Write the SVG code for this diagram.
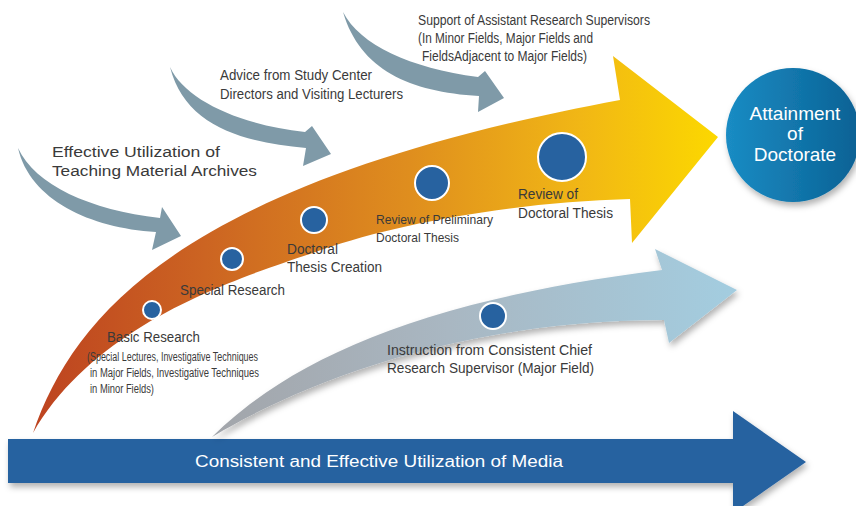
<svg xmlns="http://www.w3.org/2000/svg" width="856" height="506" viewBox="0 0 856 506">
<defs>
<style>
.lbl{font-family:"Liberation Sans","Noto Sans",sans-serif;fill:#3a3a3a;}
.c14{font-size:14px;}
.c13{font-size:13px;}
.c12{font-size:12px;}
.big{font-size:15.5px;}
.wt{font-family:"Liberation Sans","Noto Sans",sans-serif;fill:#ffffff;}
.dot{fill:#2762a0;stroke:#ffffff;stroke-width:2;}
.side{fill:#7f9aa8;}
</style>
<linearGradient id="gOrange" gradientUnits="userSpaceOnUse" x1="33" y1="0" x2="718" y2="0">
<stop offset="0" stop-color="#bd4320"/>
<stop offset="0.25" stop-color="#cc6422"/>
<stop offset="0.55" stop-color="#df8e1e"/>
<stop offset="0.8" stop-color="#f1b715"/>
<stop offset="1" stop-color="#fcd800"/>
</linearGradient>
<linearGradient id="gLight" gradientUnits="userSpaceOnUse" x1="212" y1="0" x2="737" y2="0">
<stop offset="0" stop-color="#a2a5aa"/>
<stop offset="0.45" stop-color="#a9b7c2"/>
<stop offset="1" stop-color="#a3cde0"/>
</linearGradient>
<linearGradient id="gGoal" x1="0" y1="0" x2="1" y2="0">
<stop offset="0" stop-color="#1a8cc4"/>
<stop offset="1" stop-color="#0a6194"/>
</linearGradient>
<filter id="shadow" x="-20%" y="-20%" width="140%" height="160%">
<feDropShadow dx="2" dy="4" stdDeviation="3" flood-color="#000" flood-opacity="0.3"/>
</filter>
</defs>
<rect width="856" height="506" fill="#ffffff"/>

<g id="connectors">
<path id="arrow-media" d="M8,439 H733 V411 L806,462 L733,513 V483 H8 Z" fill="#2762a0" filter="url(#shadow)"/>
<path id="arrow-instruction" d="M212,437 C290,360 420,300 662,270 L655,249 L737,290 L669,343 L664,320 C450,320 290,390 212,437 Z" fill="url(#gLight)" filter="url(#shadow)"/>
<path id="arrow-main" d="M33,433 C75,310 190,180 620,100 L613,56 L718,137 L632,243 L630,199 C520,202 400,222 321,250 C260,272 100,315 33,433 Z" fill="url(#gOrange)"/>
<path id="arrow-archives" class="side" d="M18,148 C35,185 90,210 160,218 L162,207 L181,236 L152,250 L156,232 C90,228 30,200 18,148 Z"/>
<path id="arrow-advice" class="side" d="M170,67 C185,100 240,125 305,132 L312,126 L331,154 L303,166 L306,148 C240,142 185,125 170,67 Z"/>
<path id="arrow-support" class="side" d="M343,12 C360,45 410,68 478,77 L485,71 L504,98 L478,112 L479,96 C410,92 360,70 343,12 Z"/>
</g>

<g id="media-label">
<text class="wt" x="195" y="467" font-size="16" textLength="368" lengthAdjust="spacingAndGlyphs">Consistent and Effective Utilization of Media</text>
</g>

<g id="goal">
<circle cx="793" cy="135" r="67" fill="url(#gGoal)" filter="url(#shadow)"/>
<text class="wt" x="795" y="120" font-size="19" text-anchor="middle">Attainment</text>
<text class="wt" x="795" y="140" font-size="19" text-anchor="middle">of</text>
<text class="wt" x="795" y="161" font-size="19" text-anchor="middle">Doctorate</text>
</g>

<g id="archives">
<text class="lbl big" x="52" y="157" textLength="168" lengthAdjust="spacingAndGlyphs">Effective Utilization of</text>
<text class="lbl big" x="52" y="176" textLength="205" lengthAdjust="spacingAndGlyphs">Teaching Material Archives</text>
</g>

<g id="advice">
<text class="lbl c14" x="220" y="80" textLength="152" lengthAdjust="spacingAndGlyphs">Advice from Study Center</text>
<text class="lbl c14" x="220" y="99" textLength="183" lengthAdjust="spacingAndGlyphs">Directors and Visiting Lecturers</text>
</g>

<g id="support">
<text class="lbl c14" x="418" y="25" textLength="232" lengthAdjust="spacingAndGlyphs">Support of Assistant Research Supervisors</text>
<text class="lbl c14" x="418" y="43" textLength="175" lengthAdjust="spacingAndGlyphs">(In Minor Fields, Major Fields and</text>
<text class="lbl c14" x="422" y="61" textLength="165" lengthAdjust="spacingAndGlyphs">FieldsAdjacent to Major Fields)</text>
</g>

<g id="basic-research">
<circle class="dot" cx="152" cy="310" r="9"/>
<text class="lbl c14" x="107" y="342" textLength="93" lengthAdjust="spacingAndGlyphs">Basic Research</text>
<text class="lbl c12" x="87" y="361" textLength="171" lengthAdjust="spacingAndGlyphs">(Special Lectures, Investigative Techniques</text>
<text class="lbl c12" x="90" y="377" textLength="169" lengthAdjust="spacingAndGlyphs">in Major Fields, Investigative Techniques</text>
<text class="lbl c12" x="90" y="393" textLength="64" lengthAdjust="spacingAndGlyphs">in Minor Fields)</text>
</g>

<g id="special-research">
<circle class="dot" cx="232" cy="259" r="11"/>
<text class="lbl c14" x="180" y="295" textLength="105" lengthAdjust="spacingAndGlyphs">Special Research</text>
</g>

<g id="thesis-creation">
<circle class="dot" cx="314" cy="220" r="13"/>
<text class="lbl c14" x="287" y="254" textLength="51" lengthAdjust="spacingAndGlyphs">Doctoral</text>
<text class="lbl c14" x="287" y="272" textLength="95" lengthAdjust="spacingAndGlyphs">Thesis Creation</text>
</g>

<g id="preliminary-review">
<circle class="dot" cx="432" cy="183" r="17"/>
<text class="lbl c13" x="376" y="224" textLength="117" lengthAdjust="spacingAndGlyphs">Review of Preliminary</text>
<text class="lbl c13" x="376" y="242" textLength="83" lengthAdjust="spacingAndGlyphs">Doctoral Thesis</text>
</g>

<g id="thesis-review">
<circle class="dot" cx="562" cy="157" r="24"/>
<text class="lbl c14" x="518" y="199" textLength="60" lengthAdjust="spacingAndGlyphs">Review of</text>
<text class="lbl c14" x="518" y="218" textLength="95" lengthAdjust="spacingAndGlyphs">Doctoral Thesis</text>
</g>

<g id="instruction">
<circle class="dot" cx="493" cy="316" r="13"/>
<text class="lbl c14" x="387" y="355" textLength="205" lengthAdjust="spacingAndGlyphs">Instruction from Consistent Chief</text>
<text class="lbl c14" x="387" y="373" textLength="207" lengthAdjust="spacingAndGlyphs">Research Supervisor (Major Field)</text>
</g>
</svg>
